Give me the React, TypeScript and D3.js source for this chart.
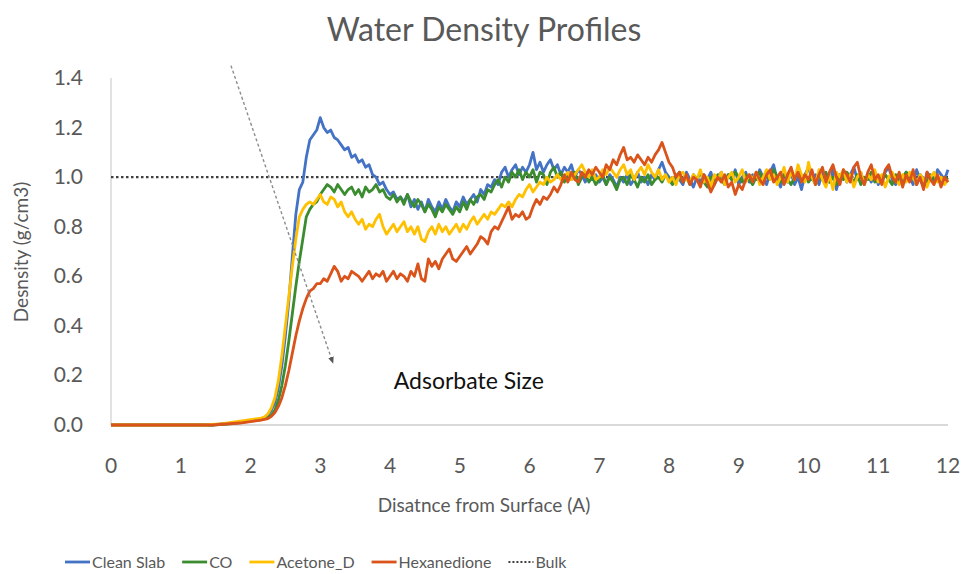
import React, { useRef, useEffect } from 'react';
import * as d3 from 'd3';

// distance from surface (A), 0.05 A steps, 0 .. 12
const distance: number[] = d3.range(0, 241).map((i) => i / 20);

const cleanSlab: number[] = [
  0, 0, 0, 0, 0, 0, 0, 0, 0, 0, 0, 0, 0, 0, 0, 0, 0, 0, 0, 0,
  0, 0, 0, 0, 0, 0, 0, 0, 0, 0, 0.002, 0.003, 0.004, 0.005, 0.007, 0.008, 0.01, 0.012, 0.014, 0.016,
  0.018, 0.02, 0.022, 0.025, 0.03, 0.04, 0.06, 0.09, 0.15, 0.24, 0.36, 0.5, 0.68, 0.85, 0.95, 0.98, 1.08, 1.15, 1.17, 1.19,
  1.24, 1.2, 1.18, 1.19, 1.16, 1.15, 1.13, 1.11, 1.12, 1.08, 1.09, 1.06, 1.07, 1.04, 1.05, 1.01, 1.0, 0.97, 0.98, 0.95,
  0.93, 0.94, 0.91, 0.92, 0.9, 0.93, 0.88, 0.91, 0.87, 0.9, 0.86, 0.91, 0.88, 0.86, 0.9, 0.87, 0.91, 0.88, 0.86, 0.9,
  0.88, 0.92, 0.89, 0.91, 0.93, 0.9, 0.95, 0.93, 0.97, 0.96, 0.99, 0.97, 1.02, 1.04, 1.0, 1.03, 1.05, 1.01, 1.04, 1.02,
  1.05, 1.1, 1.03, 1.06, 1.02, 1.05, 1.07, 1.03, 1.05, 1.01, 1.04, 1.02, 1.05, 1.0, 1.03, 1.01, 0.98, 1.02, 0.99, 1.01,
  0.98, 1.0, 0.97, 1.01, 0.99, 0.96, 1.0, 0.98, 1.01, 0.97, 0.99, 1.02, 0.98, 1.0, 0.97, 1.01, 0.99, 1.03, 1.06, 1.02,
  1.0, 0.98, 1.01, 0.99, 0.97, 1.02, 0.99, 0.96, 1.0, 0.98, 1.01, 0.99, 1.02, 0.97, 1.0, 1.02, 0.98, 1.01, 0.99, 1.03,
  0.97, 1.0, 1.02, 0.98, 1.01, 0.99, 1.03, 1.0, 0.97, 1.02, 1.05, 0.99, 0.96, 1.01, 0.98, 1.02, 0.97, 1.0, 0.95, 1.01,
  1.04, 0.99, 1.01, 0.97, 1.02, 1.0, 0.98, 1.03, 0.95, 1.0, 1.02, 0.98, 1.01, 1.04, 0.99, 1.02, 0.97, 1.01, 0.98, 1.02,
  0.97, 1.0, 1.02, 1.04, 0.99, 0.97, 1.01, 0.98, 1.02, 1.0, 0.97, 1.03, 0.99, 0.96, 1.02, 1.0, 0.98, 1.03, 1.01, 0.99,
  1.03,
];

const co: number[] = [
  0, 0, 0, 0, 0, 0, 0, 0, 0, 0, 0, 0, 0, 0, 0, 0, 0, 0, 0, 0,
  0, 0, 0, 0, 0, 0, 0, 0, 0, 0, 0.001, 0.002, 0.003, 0.004, 0.005, 0.006, 0.008, 0.01, 0.012, 0.014,
  0.016, 0.018, 0.02, 0.022, 0.025, 0.03, 0.04, 0.06, 0.1, 0.16, 0.24, 0.34, 0.45, 0.56, 0.66, 0.75, 0.84, 0.87, 0.89, 0.9,
  0.93, 0.95, 0.97, 0.96, 0.94, 0.97, 0.95, 0.93, 0.95, 0.96, 0.93, 0.95, 0.92, 0.96, 0.94, 0.95, 0.97, 0.94, 0.95, 0.92,
  0.91, 0.93, 0.9, 0.92, 0.89, 0.93, 0.9, 0.88, 0.91, 0.89, 0.86, 0.89, 0.87, 0.84, 0.88, 0.86, 0.89, 0.87, 0.85, 0.88,
  0.86, 0.9, 0.87, 0.91, 0.89, 0.92, 0.93, 0.91, 0.95, 0.94, 0.97, 0.99, 0.96, 1.0, 0.98, 1.02, 1.0, 1.03, 0.99, 1.02,
  1.0, 1.03, 0.98, 1.02, 1.01, 0.97, 1.02, 1.04, 1.0, 1.02, 0.98, 1.01, 0.99, 1.02, 0.97, 1.0, 1.02, 0.98, 1.0, 0.97,
  0.99, 1.01, 0.97, 1.0, 0.98, 0.95, 0.99, 1.0, 0.97, 1.01, 0.99, 0.96, 1.0, 0.98, 1.01, 0.97, 0.99, 1.0, 0.98, 1.01,
  0.99, 0.97, 1.0, 1.02, 0.98, 1.0, 0.97, 1.01, 0.99, 1.02, 0.98, 0.96, 1.0, 0.98, 1.01, 0.99, 0.97, 1.01, 0.99, 1.02,
  1.0, 0.98, 1.01, 0.99, 0.97, 1.0, 1.02, 0.98, 1.01, 0.99, 1.03, 1.0, 0.98, 1.01, 0.99, 0.97, 1.0, 1.02, 0.99, 1.01,
  0.98, 1.0, 0.97, 1.01, 0.99, 1.02, 0.98, 1.0, 0.97, 1.01, 0.99, 1.02, 1.0, 0.98, 1.01, 0.97, 1.0, 0.99, 1.02, 0.98,
  1.0, 0.98, 1.01, 0.99, 0.97, 1.01, 0.98, 1.0, 1.02, 0.99, 1.0, 0.97, 1.01, 0.99, 0.98, 1.01, 0.99, 1.0, 0.98, 1.0,
  0.99,
];

const acetoneD: number[] = [
  0, 0, 0, 0, 0, 0, 0, 0, 0, 0, 0, 0, 0, 0, 0, 0, 0, 0, 0, 0,
  0, 0, 0, 0, 0, 0, 0, 0, 0.001, 0.002, 0.003, 0.004, 0.006, 0.008, 0.01, 0.012, 0.014, 0.016, 0.018, 0.02,
  0.022, 0.024, 0.026, 0.028, 0.032, 0.045, 0.07, 0.11, 0.18, 0.28, 0.4, 0.52, 0.64, 0.75, 0.84, 0.87, 0.89, 0.9, 0.89, 0.91,
  0.93, 0.9, 0.89, 0.92, 0.91, 0.88, 0.9, 0.86, 0.84, 0.86, 0.83, 0.81, 0.83, 0.79, 0.81, 0.8, 0.83, 0.85, 0.8, 0.77,
  0.79, 0.81, 0.78, 0.8, 0.82, 0.78, 0.8, 0.77, 0.8, 0.75, 0.74, 0.78, 0.8, 0.77, 0.81, 0.78, 0.8, 0.77, 0.79, 0.81,
  0.78, 0.81, 0.79, 0.82, 0.84, 0.81, 0.83, 0.85, 0.83, 0.86, 0.85, 0.87, 0.89, 0.88, 0.9, 0.88, 0.91, 0.93, 0.92, 0.95,
  0.97, 0.94, 0.96, 0.98, 0.97, 1.0, 0.98, 0.99, 1.01, 0.99, 1.0, 1.02, 0.99, 1.01, 1.03, 1.05, 1.02, 1.0, 1.03, 0.99,
  1.0, 1.03, 1.01, 1.04, 1.02, 1.0, 1.03, 1.05, 1.01, 1.03, 0.99, 1.02, 1.04, 1.01, 1.05, 1.02, 1.0, 1.03, 0.99, 1.01,
  0.98, 1.0, 0.97, 1.01, 1.02, 0.99, 0.98, 1.01, 0.99, 1.03, 0.98, 1.0, 0.96, 1.01, 0.99, 1.02, 0.97, 1.0, 1.02, 0.98,
  1.0, 1.03, 0.98, 1.01, 0.99, 1.02, 0.97, 1.0, 1.03, 0.99, 1.01, 0.97, 1.0, 1.04, 0.98, 1.02, 0.99, 1.05, 1.01, 0.98,
  1.06, 1.0, 0.97, 1.03, 0.99, 0.96, 1.01, 0.95, 1.02, 1.0, 1.03, 0.98, 1.01, 0.96, 1.0, 1.02, 0.97, 1.01, 0.99, 1.03,
  0.98, 1.01, 0.96, 1.0, 1.02, 0.99, 0.97, 1.01, 0.98, 1.02, 1.0, 0.97, 1.01, 0.99, 0.96, 1.0, 1.02, 0.98, 1.0, 0.97,
  0.99,
];

const hexanedione: number[] = [
  0, 0, 0, 0, 0, 0, 0, 0, 0, 0, 0, 0, 0, 0, 0, 0, 0, 0, 0, 0,
  0, 0, 0, 0, 0, 0, 0, 0, 0, 0, 0.001, 0.002, 0.003, 0.004, 0.005, 0.006, 0.007, 0.008, 0.01, 0.012,
  0.014, 0.016, 0.018, 0.02, 0.023, 0.026, 0.035, 0.05, 0.075, 0.11, 0.16, 0.22, 0.29, 0.36, 0.42, 0.47, 0.51, 0.54, 0.55, 0.57,
  0.57, 0.59, 0.58, 0.61, 0.64, 0.62, 0.58, 0.6, 0.59, 0.62, 0.61, 0.6, 0.58, 0.6, 0.62, 0.59, 0.61, 0.6, 0.62, 0.58,
  0.6, 0.62, 0.59, 0.61, 0.6, 0.58, 0.62, 0.6, 0.65, 0.59, 0.58, 0.67, 0.64, 0.66, 0.63, 0.67, 0.69, 0.71, 0.67, 0.66,
  0.68, 0.7, 0.72, 0.69, 0.71, 0.73, 0.76, 0.75, 0.73, 0.78, 0.8, 0.79, 0.82, 0.85, 0.88, 0.83, 0.85, 0.84, 0.86, 0.83,
  0.84, 0.88, 0.91, 0.89, 0.92, 0.91, 0.93, 0.96, 0.94, 0.97, 1.01, 0.98, 1.02, 0.99, 0.98, 1.02, 1.0, 1.03, 1.01, 1.04,
  1.02, 1.0, 1.05, 1.03, 1.07, 1.05, 1.09, 1.12, 1.07, 1.08, 1.06, 1.09, 1.07, 1.05, 1.08, 1.06, 1.09, 1.11, 1.14, 1.1,
  1.06, 1.04, 1.0, 1.02, 0.98, 1.01, 0.97, 1.0, 0.99, 0.96, 1.01, 0.98, 0.94, 0.97, 1.0, 0.98, 1.01, 0.96, 0.98, 0.93,
  0.97, 0.95, 0.99, 1.01, 0.98, 1.02, 0.99, 0.97, 1.01, 1.03, 0.98, 1.0, 1.02, 0.97, 1.01, 1.04, 0.99, 1.02, 0.98, 1.01,
  0.99, 1.03, 0.97, 1.01, 1.04, 0.98, 1.02, 1.05, 1.0, 0.97, 1.03, 1.01, 0.98, 1.04, 1.06, 1.0, 0.97, 1.02, 1.05, 0.99,
  1.01, 0.97, 1.03, 1.05, 1.0, 0.98, 1.02, 0.96, 1.01, 0.98, 1.03, 0.97, 1.0, 0.95, 1.02, 0.99, 0.97, 1.01, 0.96, 1.0,
  0.98,
];

const bulkDensity = 1.0;
const seriesNames = ['Clean Slab', 'CO', 'Acetone_D', 'Hexanedione'];
const seriesColors = ['#4472C4', '#3A8C2F', '#FFC000', '#D9531A'];
const xTicks: number[] = d3.range(0, 13);
const yTicks: number[] = [0, 0.2, 0.4, 0.6, 0.8, 1.0, 1.2, 1.4];
// arrow annotation, data coordinates (from -> to)
const arrowFrom = [1.72, 1.45];
const arrowTo = [3.17, 0.26];
const annotationPos = [5.13, 0.17];

const FONT = 'Lato, "Open Sans", sans-serif';
const TEXT = '#595959';

const Chart = () => {
  const svgRef = useRef<SVGSVGElement>(null);

  useEffect(() => {
    const svg = d3.select(svgRef.current);
    svg.selectAll('*').remove();

    const x = d3.scaleLinear().domain([0, 12]).range([111, 948]);
    const y = d3.scaleLinear().domain([0, 1.4]).range([425, 78]);

    const defs = svg.append('defs');
    defs.append('marker')
      .attr('id', 'arrowhead')
      .attr('viewBox', '0 0 10 10')
      .attr('refX', 5).attr('refY', 5)
      .attr('markerWidth', 5).attr('markerHeight', 5)
      .attr('orient', 'auto')
      .append('path')
      .attr('d', 'M0,1 L10,5 L0,9 z')
      .attr('fill', '#555');

    svg.append('text')
      .attr('x', 484).attr('y', 41)
      .attr('text-anchor', 'middle')
      .attr('font-family', FONT).attr('font-size', 32)
      .attr('fill', TEXT)
      .text('Water Density Profiles');

    // axis lines
    svg.append('line')
      .attr('x1', x(0)).attr('x2', x(0)).attr('y1', y(1.4)).attr('y2', y(0))
      .attr('stroke', '#d9d9d9').attr('stroke-width', 1.5);
    svg.append('line')
      .attr('x1', x(0)).attr('x2', x(12)).attr('y1', y(0)).attr('y2', y(0))
      .attr('stroke', '#d9d9d9').attr('stroke-width', 2);

    svg.append('g').selectAll('text')
      .data(yTicks).enter().append('text')
      .attr('x', 83).attr('y', (d) => y(d) + 7)
      .attr('text-anchor', 'end')
      .attr('font-family', FONT).attr('font-size', 21).attr('fill', TEXT)
      .text((d) => d.toFixed(1));

    svg.append('g').selectAll('text')
      .data(xTicks).enter().append('text')
      .attr('x', (d) => x(d)).attr('y', 473)
      .attr('text-anchor', 'middle')
      .attr('font-family', FONT).attr('font-size', 21).attr('fill', TEXT)
      .text((d) => d);

    svg.append('text')
      .attr('x', 484).attr('y', 512)
      .attr('text-anchor', 'middle')
      .attr('font-family', FONT).attr('font-size', 19).attr('fill', TEXT)
      .text('Disatnce from Surface (A)');

    svg.append('text')
      .attr('transform', 'translate(28,252) rotate(-90)')
      .attr('text-anchor', 'middle')
      .attr('font-family', FONT).attr('font-size', 19).attr('fill', TEXT)
      .text('Desnsity (g/cm3)');

    // bulk reference
    svg.append('line')
      .attr('x1', x(0)).attr('x2', x(12))
      .attr('y1', y(bulkDensity)).attr('y2', y(bulkDensity))
      .attr('stroke', '#404040').attr('stroke-width', 2.2)
      .attr('stroke-dasharray', '2.5,2.5');

    const line = d3.line<number>()
      .x((d, i) => x(distance[i]))
      .y((d) => y(d));

    const allSeries = [cleanSlab, co, acetoneD, hexanedione];
    svg.append('g').selectAll('path')
      .data(allSeries).enter().append('path')
      .attr('d', (d) => line(d))
      .attr('fill', 'none')
      .attr('stroke', (d, i) => seriesColors[i])
      .attr('stroke-width', 2.8)
      .attr('stroke-linejoin', 'round');

    // adsorbate size arrow
    svg.append('line')
      .attr('x1', x(arrowFrom[0])).attr('y1', y(arrowFrom[1]))
      .attr('x2', x(arrowTo[0])).attr('y2', y(arrowTo[1]))
      .attr('stroke', '#8c8c8c').attr('stroke-width', 1.4)
      .attr('stroke-dasharray', '3,2.5')
      .attr('marker-end', 'url(#arrowhead)');

    svg.append('text')
      .attr('x', x(annotationPos[0])).attr('y', y(annotationPos[1]))
      .attr('text-anchor', 'middle').attr('dominant-baseline', 'middle')
      .attr('font-family', FONT).attr('font-size', 23).attr('fill', '#111')
      .text('Adsorbate Size');

    // legend
    const legendItems = seriesNames.map((n, i) => ({ name: n, color: seriesColors[i], dash: null as string | null }))
      .concat([{ name: 'Bulk', color: '#404040', dash: '2,2' }]);
    let cx = 65;
    const ly = 562;
    legendItems.forEach((item) => {
      svg.append('line')
        .attr('x1', cx).attr('x2', cx + 25).attr('y1', ly).attr('y2', ly)
        .attr('stroke', item.color)
        .attr('stroke-width', item.dash ? 2 : 2.8)
        .attr('stroke-dasharray', item.dash);
      const t = svg.append('text')
        .attr('x', cx + 27).attr('y', ly + 6)
        .attr('font-family', FONT).attr('font-size', 16).attr('fill', TEXT)
        .text(item.name);
      const w = (t.node() as SVGTextElement).getComputedTextLength();
      cx += 27 + w + 17;
    });
  }, []);

  return (
    <svg ref={svgRef} width={972} height={574} style={{ display: 'block' }} />
  );
};

export default function App() {
  return (
    <div style={{ position: 'absolute', top: 0, left: 0 }}>
      <Chart />
    </div>
  );
}
